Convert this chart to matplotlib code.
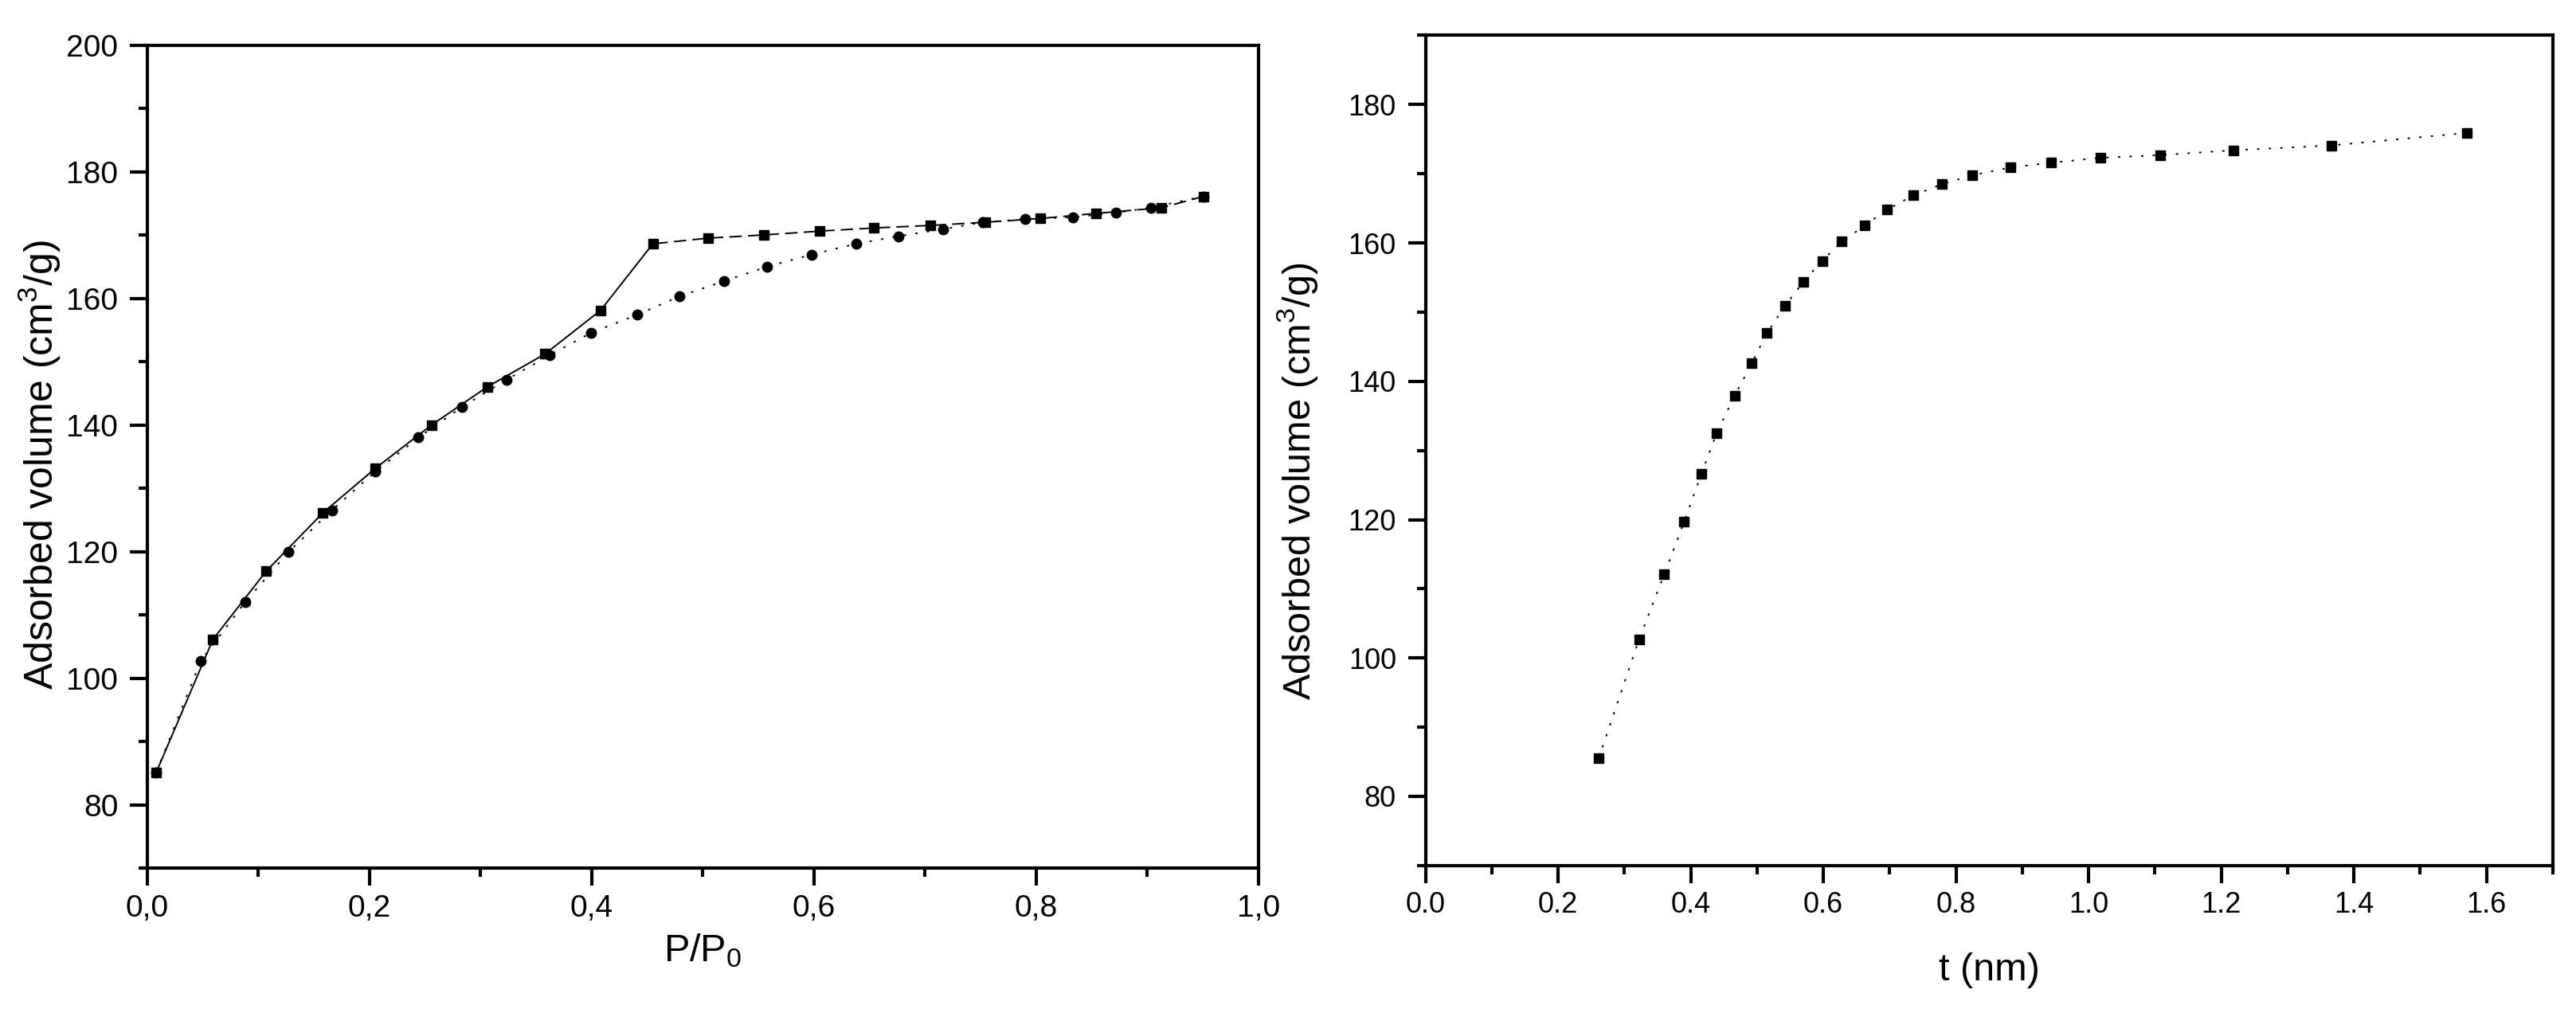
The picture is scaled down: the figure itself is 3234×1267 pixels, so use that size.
import matplotlib
matplotlib.use("Agg")
import matplotlib.pyplot as plt
from matplotlib.ticker import MultipleLocator, FuncFormatter
import numpy as np

plt.rcParams['font.family'] = ['Liberation Sans', 'DejaVu Sans']
plt.rcParams['mathtext.fontset'] = 'custom'
plt.rcParams['mathtext.rm'] = 'Liberation Sans'
plt.rcParams['mathtext.it'] = 'Liberation Sans'
plt.rcParams['mathtext.bf'] = 'Liberation Sans'

# ---- Left panel: N2 isotherm ----
ads_p = [0.008, 0.048, 0.088, 0.127, 0.166, 0.205, 0.244, 0.283, 0.323, 0.362,
         0.399, 0.441, 0.479, 0.519, 0.558, 0.598, 0.638, 0.676, 0.716, 0.752,
         0.790, 0.833, 0.872, 0.903, 0.951]
ads_v = [85.1, 102.7, 112.0, 119.9, 126.5, 132.6, 138.0, 142.8, 147.1, 151.0,
         154.5, 157.4, 160.3, 162.7, 165.0, 166.9, 168.6, 169.8, 170.9, 172.0,
         172.5, 172.8, 173.5, 174.3, 176.1]

des_p = [0.951, 0.913, 0.854, 0.804, 0.754, 0.705, 0.654, 0.605, 0.555, 0.505,
         0.455, 0.408, 0.358, 0.306, 0.256, 0.205, 0.158, 0.107, 0.059, 0.008]
des_v = [176.1, 174.3, 173.4, 172.6, 172.0, 171.5, 171.1, 170.6, 170.0, 169.5,
         168.6, 158.1, 151.2, 146.0, 140.0, 133.1, 126.1, 116.9, 106.1, 85.1]

# ---- Right panel: t-plot ----
t_nm = [0.261, 0.322, 0.360, 0.390, 0.416, 0.439, 0.466, 0.492, 0.515, 0.542,
        0.570, 0.598, 0.628, 0.662, 0.696, 0.736, 0.779, 0.825, 0.882, 0.943,
        1.018, 1.108, 1.219, 1.366, 1.570]
t_v = [85.5, 102.7, 112.1, 119.7, 126.6, 132.5, 137.9, 142.6, 147.0, 150.9,
       154.4, 157.4, 160.2, 162.5, 164.8, 166.9, 168.5, 169.8, 170.9, 171.6,
       172.3, 172.7, 173.4, 174.1, 175.9]

left_xticks = [0.0, 0.2, 0.4, 0.6, 0.8, 1.0]
left_yticks = [80, 100, 120, 140, 160, 180, 200]
right_xticks = [0.0, 0.2, 0.4, 0.6, 0.8, 1.0, 1.2, 1.4, 1.6]
right_yticks = [80, 100, 120, 140, 160, 180]

ylabel_txt = 'Adsorbed volume (cm$^3$/g)'

fig = plt.figure(figsize=(32.34, 12.67), dpi=100)
fig.patch.set_facecolor('white')

ax1 = fig.add_axes([0.0572, 0.1397, 0.4313, 0.8157])
ax2 = fig.add_axes([0.5534, 0.1422, 0.4376, 0.8227])

LW = 1.4
dot = (0, (1.5, 6))
dash = (0, (8, 4))

# adsorption branch
ax1.plot(ads_p, ads_v, color='black', lw=LW, linestyle=dot,
         marker='o', markersize=9, markerfacecolor='black', markeredgecolor='black', zorder=3)
# desorption branch: dashed above the closure point, solid below
dp = np.array(des_p)
dv = np.array(des_v)
up = dp >= 0.455
lo = dp <= 0.455
ax1.plot(dp[up], dv[up], color='black', lw=LW, linestyle=dash, zorder=3)
ax1.plot(dp[lo], dv[lo], color='black', lw=LW, linestyle='-', zorder=3)
ax1.plot(dp, dv, linestyle='none', marker='s', markersize=8.5,
         markerfacecolor='black', markeredgecolor='black', zorder=4)

ax2.plot(t_nm, t_v, color='black', lw=LW, linestyle=dot,
         marker='s', markersize=8, markerfacecolor='black', markeredgecolor='black', zorder=3)

ax1.set_xlim(0, 1.0)
ax1.set_ylim(70, 200)
ax1.set_xticks(left_xticks)
ax1.set_yticks(left_yticks)
ax1.xaxis.set_minor_locator(MultipleLocator(0.1))
ax1.yaxis.set_minor_locator(MultipleLocator(10))
ax1.xaxis.set_major_formatter(FuncFormatter(lambda v, p: f"{v:.1f}".replace('.', ',')))

ax2.set_xlim(0, 1.7)
ax2.set_ylim(70, 190)
ax2.set_xticks(right_xticks)
ax2.set_yticks(right_yticks)
ax2.xaxis.set_minor_locator(MultipleLocator(0.1))
ax2.yaxis.set_minor_locator(MultipleLocator(10))
ax2.xaxis.set_major_formatter(FuncFormatter(lambda v, p: f"{v:.1f}"))

for ax, fs in ((ax1, 28), (ax2, 26)):
    for s in ax.spines.values():
        s.set_linewidth(3.0)
        s.set_color('black')
    ax.tick_params(which='both', direction='out', top=False, right=False, width=3.0, color='black')
    ax.tick_params(which='major', length=15.5, labelsize=fs)
    ax.tick_params(which='minor', length=8)
    ax.tick_params(axis='y', which='major', pad=11)
    ax.tick_params(axis='x', which='major', pad=8)

ax1.set_xlabel('P/P$_0$', fontsize=35)
ax1.set_ylabel(ylabel_txt, fontsize=36)
ax1.xaxis.set_label_coords(0.5, -0.078)
ax1.yaxis.set_label_coords(-0.076, 0.49)

ax2.set_xlabel('t (nm)', fontsize=35)
ax2.set_ylabel(ylabel_txt, fontsize=35)
ax2.xaxis.set_label_coords(0.5, -0.105)
ax2.yaxis.set_label_coords(-0.094, 0.463)
ax1.xaxis.label.set_verticalalignment('top')
ax2.xaxis.label.set_verticalalignment('top')

fig.savefig('out.png', dpi=100, facecolor='white')
